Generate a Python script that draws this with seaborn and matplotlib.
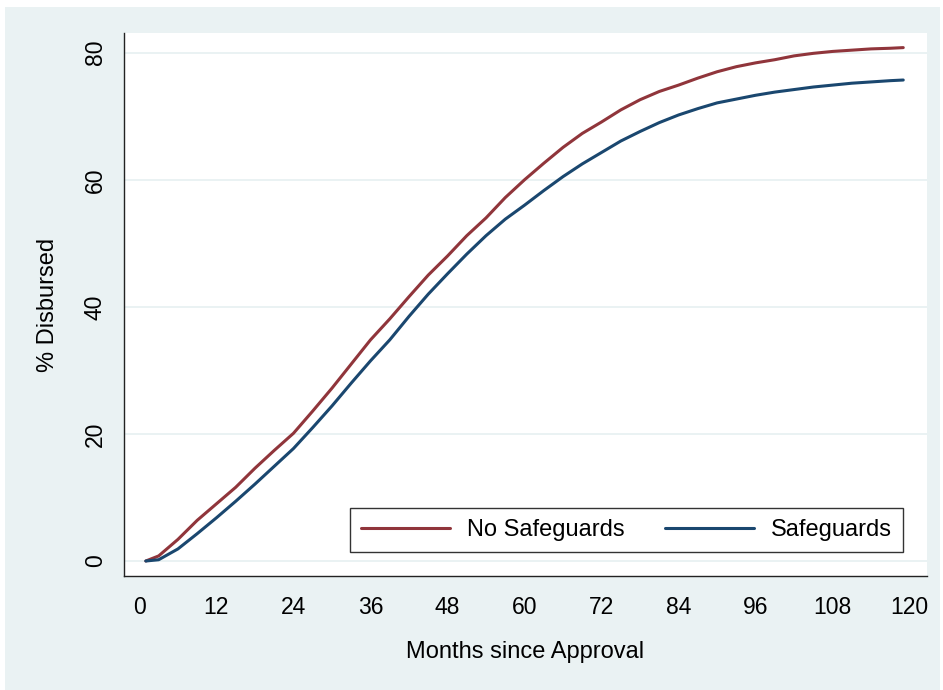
import numpy as np
import pandas as pd
import matplotlib
matplotlib.use("Agg")
import matplotlib.pyplot as plt
from matplotlib.patches import Rectangle
import seaborn as sns

# --------------------------
# Data
# --------------------------
months = [1, 3, 6, 9, 12, 15, 18, 21, 24, 27, 30, 33, 36, 39, 42, 45, 48, 51,
          54, 57, 60, 63, 66, 69, 72, 75, 78, 81, 84, 87, 90, 93, 96, 99, 102,
          105, 108, 111, 114, 117, 119]

no_safeguards = [0.0, 0.8, 3.4, 6.4, 9.0, 11.6, 14.6, 17.4, 20.1, 23.6, 27.2,
                 31.0, 34.8, 38.1, 41.6, 45.0, 48.0, 51.2, 54.0, 57.2, 60.0,
                 62.6, 65.1, 67.3, 69.1, 71.0, 72.6, 73.9, 74.9, 76.0, 77.0,
                 77.8, 78.4, 78.9, 79.5, 79.9, 80.2, 80.4, 80.6, 80.7, 80.8]

safeguards = [0.0, 0.2, 1.9, 4.3, 6.8, 9.4, 12.1, 14.9, 17.7, 21.0, 24.4,
              28.0, 31.5, 34.8, 38.5, 42.0, 45.2, 48.3, 51.2, 53.8, 56.0,
              58.3, 60.5, 62.5, 64.3, 66.1, 67.6, 69.0, 70.2, 71.2, 72.1,
              72.7, 73.3, 73.8, 74.2, 74.6, 74.9, 75.2, 75.4, 75.6, 75.7]

groups = ["No Safeguards", "Safeguards"]
colors = ["#90353B", "#1A476F"]

df = pd.DataFrame({
    "month": months * 2,
    "pct": no_safeguards + safeguards,
    "group": [groups[0]] * len(months) + [groups[1]] * len(months),
})

# --------------------------
# Plot
# --------------------------
sns.set_style("white")
plt.rcParams["font.family"] = ["Liberation Sans", "DejaVu Sans"]
plt.rcParams["text.color"] = "black"
plt.rcParams["axes.labelcolor"] = "black"

bg = "#EAF2F3"
fs = 17
fig = plt.figure(figsize=(9.43, 6.9), dpi=100, facecolor="white")
fig.patches.append(Rectangle((5 / 943, 0), 935 / 943, 1 - 7 / 690,
                             transform=fig.transFigure, facecolor=bg,
                             edgecolor="none", zorder=-10))
ax = fig.add_axes([124 / 943, 1 - 576 / 690, 803 / 943, 543 / 690])
ax.set_facecolor("white")

sns.lineplot(data=df, x="month", y="pct", hue="group", palette=colors,
             hue_order=groups, linewidth=2.2, ax=ax)

ax.set_xlim(-2.4, 122.7)
ax.set_ylim(-2.36, 83.1)
ax.set_xticks(range(0, 121, 12))
ax.set_yticks(range(0, 81, 20))
ax.yaxis.grid(True, color=bg, linewidth=1.4)
ax.set_axisbelow(True)

for s in ["top", "right"]:
    ax.spines[s].set_visible(False)
for s in ["left", "bottom"]:
    ax.spines[s].set_color("#222222")
    ax.spines[s].set_linewidth(1.0)

ax.tick_params(axis="both", direction="out", length=6.5, width=1,
               color="#222222", labelcolor="black", labelsize=16.5, pad=6)
ax.tick_params(axis="x", pad=8)
plt.setp(ax.get_yticklabels(), rotation=90, va="center")

ax.set_xlabel("Months since Approval", fontsize=fs, labelpad=16)
ax.set_ylabel("% Disbursed", fontsize=fs, labelpad=18)

leg = ax.legend(loc="lower right", bbox_to_anchor=(0.970, 0.044), ncol=2,
                frameon=True, fancybox=False, fontsize=fs,
                handlelength=3.77, handletextpad=0.72, columnspacing=1.7,
                borderpad=0.46, borderaxespad=0)
leg.get_frame().set_edgecolor("black")
leg.get_frame().set_linewidth(1.0)
for line in leg.get_lines():
    line.set_linewidth(2.2)

fig.savefig("out.png", dpi=100, facecolor=fig.get_facecolor())
